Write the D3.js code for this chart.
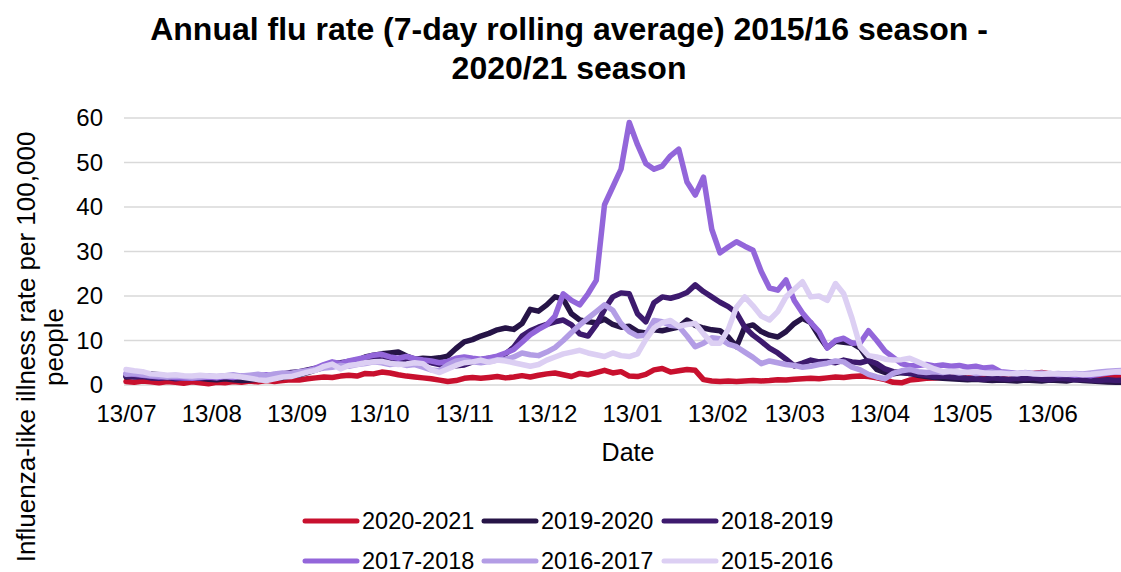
<!DOCTYPE html>
<html>
<head>
<meta charset="utf-8">
<script src="https://cdn.jsdelivr.net/npm/d3@7"></script>
<style>
  body { margin: 0; background: #fff; }
  svg { display: block; font-family: "Liberation Sans", Arial, sans-serif; }
</style>
</head>
<body>
<div class="svg-container"></div>
<script>
//Data - one reading every 3 days from 13/07, 7-day rolling average per 100,000
const seasons = ['2020-2021', '2019-2020', '2018-2019', '2017-2018', '2016-2017', '2015-2016'];
const seasonColors = ['#C8102E', '#261447', '#3D1A6E', '#9366DA', '#B39DE5', '#DCCFF3'];

const rate2020 = [0.8,0.6,0.9,0.7,0.5,0.8,0.6,0.4,0.7,0.5,
  0.3,0.6,0.5,0.8,0.6,0.9,0.7,1.0,0.8,1.0,
  1.2,1.1,1.4,1.6,1.8,1.7,2.0,2.2,2.0,2.6,
  2.5,2.9,2.7,2.3,2.0,1.8,1.6,1.4,1.1,0.8,
  1.0,1.5,1.7,1.5,1.7,1.9,1.6,1.8,2.1,1.8,
  2.2,2.5,2.7,2.3,1.9,2.6,2.3,2.8,3.3,2.7,
  3.0,2.0,1.9,2.4,3.4,3.7,2.9,3.2,3.5,3.3,
  1.2,0.9,0.8,0.9,0.8,0.9,1.0,0.9,1.0,1.2,
  1.1,1.3,1.4,1.5,1.4,1.6,1.8,1.7,1.9,2.0,
  1.9,1.6,1.2,0.6,0.5,1.1,1.3,1.5,1.6,1.7,
  1.7,1.9,2.1,1.8,2.0,2.2,2.0,2.3,2.1,2.4,
  2.6,2.8,2.5,2.3,2.0,2.2,2.1,1.9,2.0,1.8,
  1.7,1.6];

const rate2019 = [1.8,2.0,2.2,2.5,2.3,2.0,1.8,1.6,1.8,1.5,
  1.3,1.2,1.4,1.2,1.0,1.1,1.3,1.2,1.5,1.7,
  2.0,2.3,2.8,3.4,4.0,4.5,4.2,5.0,5.5,6.3,
  6.7,7.0,7.2,7.4,6.5,5.8,6.0,5.9,6.1,6.5,
  8.2,9.7,10.2,11.0,11.6,12.4,12.8,12.5,13.8,17.0,
  16.6,18.0,19.8,19.3,16.0,14.6,14.2,14.0,14.8,13.6,
  13.0,13.2,12.0,11.7,12.4,12.2,12.6,13.0,14.6,13.4,
  12.8,12.4,12.2,10.8,8.6,13.0,13.5,12.0,11.2,10.8,
  12.0,13.8,15.0,14.0,11.0,8.4,9.8,9.6,9.4,8.3,
  5.6,3.5,2.8,2.5,2.8,2.6,2.2,1.9,1.7,1.5,
  1.4,1.3,1.2,1.3,1.1,1.0,1.1,1.0,0.9,1.1,
  1.0,0.9,1.1,1.0,0.9,1.2,1.0,0.9,0.8,0.7,
  0.6,0.6];

const rate2018 = [2.0,1.8,1.9,1.6,1.5,1.7,1.4,1.6,1.8,1.5,
  1.7,1.6,1.9,2.1,1.8,2.0,2.2,2.0,2.3,2.5,
  2.8,3.0,3.4,3.8,4.2,4.8,5.0,5.3,5.6,5.8,
  6.0,5.6,6.0,5.5,5.2,5.5,5.6,5.0,4.6,4.0,
  4.3,4.5,5.2,5.7,6.0,6.3,7.0,8.5,11.0,12.2,
  13.0,13.6,14.2,14.6,13.5,11.5,11.0,13.5,17.0,19.8,
  20.7,20.5,16.0,14.2,18.5,19.8,19.5,20.0,20.8,22.5,
  21.0,19.8,18.6,17.6,16.2,13.0,11.2,9.8,8.3,7.2,
  5.8,4.3,4.9,5.6,5.2,5.3,5.0,5.6,5.2,5.0,
  5.5,4.8,3.6,3.0,2.8,2.6,2.4,2.2,1.9,2.0,
  1.8,1.7,1.5,1.4,1.3,1.6,1.4,1.3,1.5,1.4,
  1.6,1.3,1.2,1.5,1.4,1.2,1.3,1.1,1.0,1.2,
  1.0,1.1];

const rate2017 = [2.6,2.4,2.2,2.0,1.8,1.9,1.7,1.6,1.5,1.7,
  1.8,1.6,1.9,1.7,2.0,1.8,2.1,2.3,2.0,2.2,
  2.5,2.8,3.2,3.8,4.6,5.2,4.8,5.4,5.8,6.2,
  6.7,6.9,6.3,6.0,6.4,5.9,5.6,5.4,5.0,5.3,
  6.0,6.3,6.0,5.8,6.1,6.5,7.2,8.0,9.6,11.3,
  12.5,13.5,15.5,20.5,19.0,18.0,20.5,23.5,40.5,44.5,
  48.5,59.0,54.0,49.8,48.5,49.2,51.5,53.0,45.6,42.7,
  46.7,35.0,29.7,31.0,32.2,31.2,30.3,25.5,21.8,21.3,
  23.6,19.0,16.2,14.0,12.0,8.3,10.0,10.5,9.4,9.5,
  12.2,10.0,7.6,6.2,4.8,4.3,4.4,4.6,4.3,4.5,
  4.2,4.4,4.0,4.2,3.8,4.0,3.0,2.8,2.6,2.7,
  2.5,2.4,2.6,2.3,2.4,2.2,2.3,2.1,2.4,2.7,
  2.9,3.0];

const rate2016 = [2.4,2.6,2.3,2.1,2.0,1.8,2.0,1.9,1.7,1.8,
  2.0,1.9,2.1,2.3,2.0,2.2,2.4,2.1,2.5,2.7,
  2.6,3.0,3.2,3.5,3.8,4.0,4.4,4.2,4.6,4.8,
  5.2,5.0,4.6,4.8,4.4,4.6,4.0,3.4,3.2,4.5,
  5.4,5.6,5.2,5.0,5.3,5.6,5.8,6.3,7.2,6.8,
  6.6,7.4,8.4,10.0,11.8,13.5,15.0,16.5,18.0,16.8,
  13.8,12.0,11.0,11.2,14.5,14.2,13.4,13.2,11.0,8.6,
  9.4,10.6,10.4,9.2,8.6,7.4,6.2,4.8,5.4,5.0,
  4.6,4.4,4.0,4.2,4.6,4.9,5.4,5.2,4.0,3.4,
  2.4,1.8,1.4,2.6,3.2,3.5,3.0,2.8,3.0,2.8,
  3.1,2.7,2.9,2.6,2.7,2.9,2.6,2.7,2.5,2.8,
  2.6,2.7,2.5,2.6,2.4,2.6,2.5,2.7,2.9,3.1,
  3.2,3.3];

const rate2015 = [3.5,3.2,3.0,2.5,2.4,2.2,2.3,2.1,2.0,2.2,
  2.0,1.9,2.1,2.0,1.8,1.5,1.2,1.0,1.4,1.8,
  1.9,2.4,2.9,3.3,4.2,4.7,3.6,4.4,4.6,5.0,
  5.2,5.3,4.9,4.6,4.7,5.0,4.8,3.4,2.8,3.6,
  4.4,5.0,5.2,5.6,5.1,5.6,5.4,5.0,4.6,4.2,
  4.6,5.6,6.3,7.0,7.4,7.8,7.2,6.8,6.4,7.2,
  6.6,6.4,7.0,10.2,12.8,14.0,14.5,13.2,13.6,13.8,
  11.5,9.4,9.4,12.5,17.5,19.8,17.8,15.5,14.6,16.5,
  19.8,21.5,23.2,19.8,20.0,19.0,22.8,20.5,15.0,8.6,
  6.6,6.3,5.8,5.6,5.7,6.0,5.2,4.4,3.6,3.0,
  3.1,2.9,2.8,3.0,2.7,2.6,2.7,2.5,2.6,2.7,
  2.5,2.4,2.6,2.5,2.4,2.5,2.3,2.4,2.6,2.8,
  3.0,3.1];

const seasonRates = [rate2020, rate2019, rate2018, rate2017, rate2016, rate2015];

const yTicks = [0, 10, 20, 30, 40, 50, 60];
const tickLabels = ['13/07', '13/08', '13/09', '13/10', '13/11', '13/12',
                    '13/01', '13/02', '13/03', '13/04', '13/05', '13/06'];

//Dates along a generic season (July to July)
const seasonStart = new Date(2020, 6, 13);
const stepDays = 3;
const tickDates = tickLabels.map((t, i) => new Date(2020, 6 + i, 13));

//Canvas
const W = 1121, H = 572;
const plot = {left: 124, right: 1121, top: 118, bottom: 385};

const svg = d3.select('.svg-container')
  .append('svg')
  .attr('width', W)
  .attr('height', H);

//Scales
const xScale = d3.scaleTime()
  .domain([seasonStart, d3.timeDay.offset(seasonStart, 365)])
  .range([126, 126 + 365 * 2.75]);

const yScale = d3.scaleLinear()
  .domain([0, 60])
  .range([plot.bottom, plot.top]);

//Gridlines
svg.append('g')
  .attr('class', 'grid')
  .selectAll('line')
  .data(yTicks)
  .enter()
  .append('line')
  .attr('x1', plot.left)
  .attr('x2', plot.right)
  .attr('y1', d => yScale(d))
  .attr('y2', d => yScale(d))
  .attr('stroke', '#D9D9D9')
  .attr('stroke-width', 1.5);

//Y axis
const yAxis = d3.axisLeft(yScale).tickValues(yTicks).tickSize(0).tickPadding(21);
svg.append('g')
  .attr('class', 'y axis')
  .attr('transform', `translate(${plot.left}, 0)`)
  .call(yAxis)
  .call(g => g.select('.domain').remove())
  .selectAll('text')
  .attr('font-size', 24)
  .attr('font-family', '"Liberation Sans", Arial, sans-serif')
  .attr('fill', '#000');

//X axis
const xAxis = d3.axisBottom(xScale)
  .tickValues(tickDates)
  .tickFormat((d, i) => tickLabels[i])
  .tickSize(0)
  .tickPadding(20);
svg.append('g')
  .attr('class', 'x axis')
  .attr('transform', `translate(0, ${plot.bottom})`)
  .call(xAxis)
  .call(g => g.select('.domain').remove())
  .selectAll('text')
  .attr('font-size', 24)
  .attr('font-family', '"Liberation Sans", Arial, sans-serif')
  .attr('fill', '#000');

//Lines
const line = d3.line()
  .x((d, i) => xScale(d3.timeDay.offset(seasonStart, i * stepDays)))
  .y(d => yScale(d));

svg.append('g')
  .attr('class', 'series')
  .selectAll('path')
  .data(seasonRates)
  .enter()
  .append('path')
  .attr('d', d => line(d))
  .attr('fill', 'none')
  .attr('stroke', (d, i) => seasonColors[i])
  .attr('stroke-width', 5.5)
  .attr('stroke-linejoin', 'round')
  .attr('stroke-linecap', 'round');

//Title
const title = svg.append('text')
  .attr('text-anchor', 'middle')
  .attr('font-size', 32)
  .attr('font-weight', 'bold')
  .attr('fill', '#000');
title.append('tspan').attr('x', 569).attr('y', 40)
  .text('Annual flu rate (7-day rolling average) 2015/16 season -');
title.append('tspan').attr('x', 569).attr('y', 79)
  .text('2020/21 season');

//Axis titles
svg.append('text')
  .attr('x', 628)
  .attr('y', 461)
  .attr('text-anchor', 'middle')
  .attr('font-size', 25)
  .text('Date');

const ytitle = svg.append('text')
  .attr('transform', 'translate(0, 347) rotate(-90)')
  .attr('text-anchor', 'middle')
  .attr('font-size', 26);
ytitle.append('tspan').attr('x', 0).attr('y', 35)
  .text('Influenza-like illness rate per 100,000');
ytitle.append('tspan').attr('x', 0).attr('y', 63)
  .text('people');

//Legend
const legendX = [305, 484, 664];
const legendY = [521, 561];
const legend = svg.append('g')
  .attr('class', 'legend')
  .selectAll('g')
  .data(seasons)
  .enter()
  .append('g')
  .attr('transform', (d, i) => `translate(${legendX[i % 3]}, ${legendY[Math.floor(i / 3)]})`);

legend.append('line')
  .attr('x1', 0)
  .attr('x2', 52)
  .attr('stroke', (d, i) => seasonColors[i])
  .attr('stroke-width', 5)
  .attr('stroke-linecap', 'round');

legend.append('text')
  .attr('x', 57)
  .attr('y', 8)
  .attr('font-size', 23.5)
  .text(d => d);
</script>
</body>
</html>
